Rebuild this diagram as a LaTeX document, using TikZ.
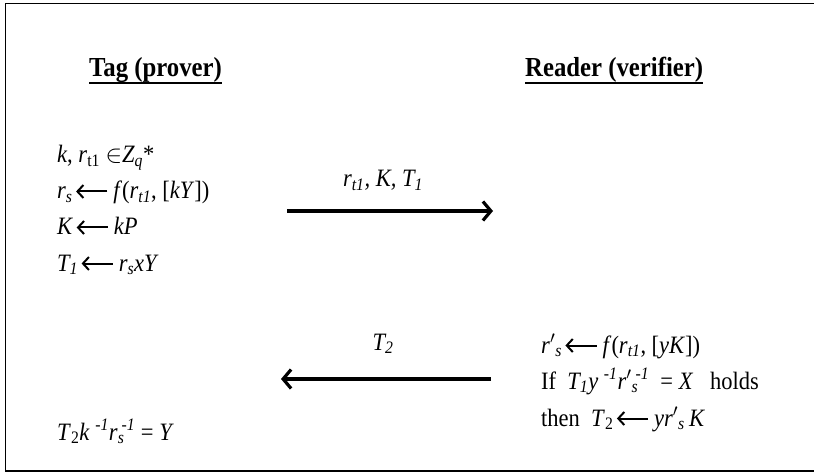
\documentclass[tikz,border=0pt]{standalone}
\usepackage{fontspec}
\setmainfont{Liberation Serif}[FakeStretch=0.9]
\usetikzlibrary{arrows.meta}
\newcommand{\Sb}[1]{\textsubscript{#1}}
\newcommand{\Sp}[1]{\textsuperscript{#1}}
\newcommand{\SbSp}[2]{\makebox[0pt][l]{\textsubscript{#1}}\textsuperscript{#2}}
\newcommand{\LArr}{\kern0.1em\tikz[baseline=-0.3em]\draw[-{Straight Barb[length=6pt,width=13pt]},line width=2pt] (1.25em,0) -- (0,0);\kern0.2em}
\tikzset{
  head/.style={font=\fontsize{27.5}{32}\selectfont\bfseries, inner sep=0pt, anchor=base west},
  body/.style={font=\fontsize{25}{29}\selectfont, inner sep=0pt, anchor=base west},
  lbl/.style={font=\fontsize{25}{29}\selectfont\itshape, inner sep=0pt, anchor=base},
  msg/.style={line width=3.2pt, -{Straight Barb[length=8pt,width=19pt]}},
  ul/.style={line width=2.6pt},
}
\begin{document}
\begin{tikzpicture}[x=1pt,y=-1pt]
\useasboundingbox (0,0) rectangle (814,473);
\draw[line width=1.2pt] (5.5,3.5) rectangle (820,471);
% headings
\node[head] (tag) at (89,77) {Tag (prover)};
\draw[ul] (tag.south west |- 0,83) -- (tag.south east |- 0,83);
\node[head] (reader) at (525,77) {Reader (verifier)};
\draw[ul] (reader.south west |- 0,83) -- (reader.south east |- 0,83);
% tag side
\node[body] (l1) at (57,163) {\textit{k}, \textit{r}\Sb{t1} $\in$\textit{Z\Sb{q}}*};
\node[body] (l2) at (57,199) {\textit{r\Sb{s}}\LArr\textit{f}(\textit{r\Sb{t1}}, [\textit{kY}])};
\node[body] (l3) at (57,235) {\textit{K}\LArr\textit{kP}};
\node[body] (l4) at (57,271) {\textit{T\Sb{1}}\LArr\textit{r\Sb{s}xY}};
\node[body] (l5) at (57,440) {\textit{T}\Sb{2}\textit{k}\ \Sp{\textit{-1}}\textit{r}\SbSp{\textit{s}}{\ \textit{-1}} = \textit{Y}};
% reader side
\node[body] (r1) at (541,353) {\textit{r}$'$\Sb{\textit{s}}\LArr\textit{f}(\textit{r\Sb{t1}}, [\textit{yK}])};
\node[body] (r2) at (541,389) {If\ \ \textit{T\Sb{1}y}\ \Sp{\textit{-1}}\textit{r}$'$\SbSp{\textit{s}}{\ \textit{-1}}\ \ = \textit{X}\ \ \ holds};
\node[body] (r3) at (541,426) {then\ \ \textit{T}\Sb{2}\LArr\textit{yr}$'$\Sb{\textit{s}}\,\textit{K}};
% messages
\coordinate (m1s) at (287,211);
\coordinate (m1e) at (493,211);
\coordinate (m2s) at (491,379);
\coordinate (m2e) at (281,379);
\draw[msg] (m1s) -- (m1e);
\draw[msg] (m2s) -- (m2e);
\node[lbl] (lab1) at (383,187) {\textit{r\Sb{t1}}, \textit{K}, \textit{T\Sb{1}}};
\node[lbl] (lab2) at (383,350) {\textit{T\Sb{2}}};
\end{tikzpicture}
\end{document}
